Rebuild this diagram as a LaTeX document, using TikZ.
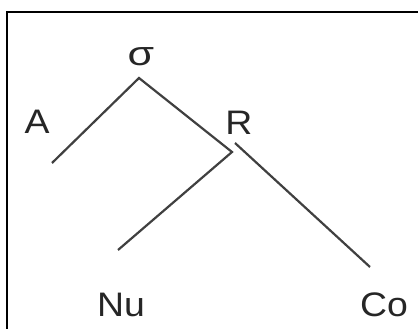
\documentclass[tikz,border=0pt]{standalone}
\usepackage{fontspec}
\setmainfont{Liberation Sans}
\begin{document}
\begin{tikzpicture}[x=1pt,y=-1pt,
  branch/.style={draw=black!75, line width=2.2pt},
  lbl/.style={font=\fontsize{34}{40}\selectfont, text=black!85, inner sep=0pt, xscale=1.1}]
\useasboundingbox (0,0) rectangle (418,329);
\draw[line width=2.2pt] (7,340) -- (7,12) -- (430,12);
\coordinate (sig) at (139,78);
\coordinate (aend) at (52,163);
\coordinate (r) at (232,152);
\coordinate (rtop) at (235,143);
\coordinate (nuend) at (118,250);
\coordinate (coend) at (370,267);
\node[lbl, xscale=1.15] (ls) at (141,57) {σ};
\node[lbl] (la) at (37,122) {A};
\node[lbl] (lr) at (239,123) {R};
\node[lbl] (lnu) at (121,305) {Nu};
\node[lbl] (lco) at (384,305) {Co};
\draw[branch] (aend) -- (sig) -- (r) -- (nuend);
\draw[branch] (rtop) -- (coend);
\end{tikzpicture}
\end{document}
